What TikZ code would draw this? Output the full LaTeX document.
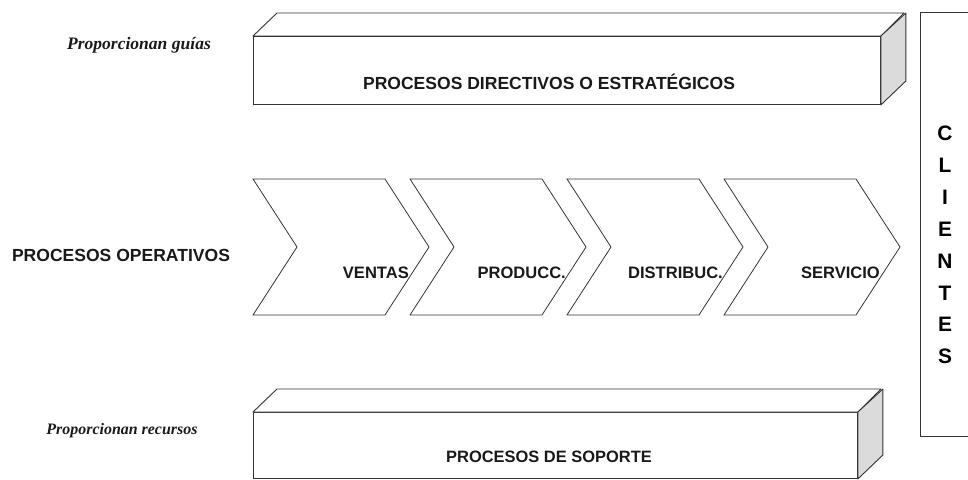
\documentclass[tikz,border=0pt]{standalone}
\usepackage{fontspec}
\setmainfont{Liberation Serif}
\setsansfont{Liberation Sans}
\tikzset{
    flat-box/.style = {draw=black!80, fill=white, line width=0.9pt, rectangle, inner sep=0pt, anchor=north west},
    box-top/.style = {draw=black!80, fill=white, line width=0.9pt, line join=round},
    box-side/.style = {draw=black!80, fill=black!14, line width=0.9pt, line join=round},
    chevron/.style = {draw=black!80, fill=white, line width=0.8pt},
    proc-title/.style = {font=\sffamily\bfseries\fontsize{17.6}{20}\selectfont, text=black!90, inner sep=0pt},
    step-label/.style = {font=\sffamily\bfseries\fontsize{16.6}{19}\selectfont, text=black!90, inner sep=0pt, anchor=base east},
    side-note/.style = {font=\rmfamily\bfseries\itshape\fontsize{16}{19}\selectfont, text=black!90, inner sep=0pt},
}

\begin{document}
\begin{tikzpicture}[x=1bp, y=-1bp]
\useasboundingbox (0,0) rectangle (968,480);
% top block
\node[flat-box, minimum width=627bp, minimum height=68bp] (dir) at (253,36) {};
\draw[box-top] (dir.north west) -- ++(24,-23) -- ++(627,0) -- (dir.north east) -- cycle;
\draw[box-side] (dir.north east) -- ++(25,-23) -- ++(0,68) -- (dir.south east) -- cycle;
\node[proc-title] (dir-text) at (549,82) {PROCESOS DIRECTIVOS O ESTRATÉGICOS};
\node[side-note, font=\rmfamily\bfseries\itshape\fontsize{17.6}{20}\selectfont] (guias) at (139,45) {Proporcionan guías};
% chain of operations
\node[proc-title] (oper) at (121,255) {PROCESOS OPERATIVOS};
\foreach \x/\name/\txt in {253/ventas/VENTAS, 410/producc/PRODUCC., 567/distrib/DISTRIBUC., 724/servicio/SERVICIO} {
    \draw[chevron] (\x,179) coordinate (\name) -- ++(132,0) -- ++(44,68) -- ++(-44,68) -- ++(-132,0) -- ++(44,-68) -- cycle;
    \node[step-label] (\name-text) at ([xshift=156bp, yshift=-99bp]\name) {\txt};
}
% bottom block
\node[flat-box, minimum width=604bp, minimum height=66bp] (sop) at (253,412) {};
\draw[box-top] (sop.north west) -- ++(24,-23) -- ++(604,0) -- (sop.north east) -- cycle;
\draw[box-side] (sop.north east) -- ++(25,-23) -- ++(0,66) -- (sop.south east) -- cycle;
\node[proc-title, font=\sffamily\bfseries\fontsize{16.5}{19}\selectfont] (sop-text) at (549,457) {PROCESOS DE SOPORTE};
\node[side-note] (recursos) at (122,431) {Proporcionan recursos};
% clients
\draw[draw=black!80, line width=0.9pt] (990,12) -- (920,12) -- (920,436) -- (990,436);
\node[font=\sffamily\bfseries\fontsize{21}{32}\selectfont, align=center, text=black, inner sep=0pt] (clientes) at (945,245) {C\\L\\I\\E\\N\\T\\E\\S};
\end{tikzpicture}
\end{document}
